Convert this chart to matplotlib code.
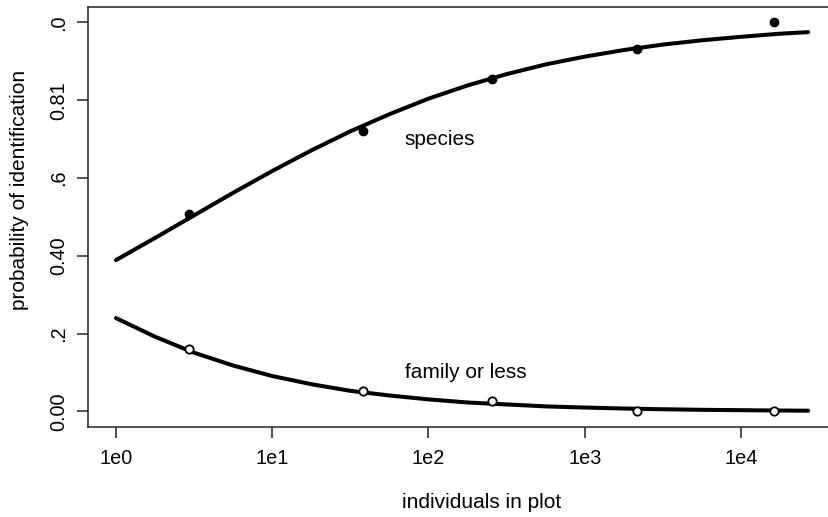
import numpy as np
import matplotlib.pyplot as plt

plt.rcParams['font.family'] = ['Liberation Sans', 'DejaVu Sans']

# observed proportions (points)
x_obs = [2.93, 38.2, 255, 2160, 16300]
species_obs = [0.507, 0.721, 0.855, 0.931, 1.0]
family_obs = [0.160, 0.052, 0.027, 0.0, 0.0]

# fitted curves
x_fit = [1, 1.78, 3.16, 5.62, 10, 17.8, 31.6, 56.2, 100, 178, 316, 562,
         1000, 1780, 3160, 5620, 10000, 17800, 26900]
species_fit = [0.389, 0.446, 0.504, 0.562, 0.618, 0.671, 0.720, 0.764, 0.804, 0.838,
               0.867, 0.892, 0.912, 0.929, 0.943, 0.954, 0.963, 0.971, 0.975]
family_fit = [0.240, 0.192, 0.151, 0.118, 0.091, 0.070, 0.053, 0.041, 0.031, 0.023,
              0.018, 0.013, 0.010, 0.0075, 0.0056, 0.0042, 0.0032, 0.0024, 0.0019]

x_ticks = [1, 10, 100, 1000, 10000]
x_ticklabels = ['1e0', '1e1', '1e2', '1e3', '1e4']
y_ticks = [0.0, 0.2, 0.4, 0.6, 0.8, 1.0]
y_ticklabels = ['0.00', '.2', '0.40', '.6', '0.81', '.0']

fig = plt.figure(figsize=(8.29, 5.17), dpi=100)
ax = fig.add_axes([88 / 829, 90 / 517, 748 / 829, 420 / 517])

ax.plot(x_fit, species_fit, color='black', lw=2.9, solid_capstyle='round')
ax.plot(x_fit, family_fit, color='black', lw=2.9, solid_capstyle='round')
ax.plot(x_obs, species_obs, 'o', color='black', ms=6)
ax.plot(x_obs, family_obs, 'o', mfc='white', mec='black', mew=1.3, ms=6)

ax.text(70.6, 0.698, 'species', fontsize=15, va='center', ha='left')
ax.text(70.6, 0.099, 'family or less', fontsize=15, va='center', ha='left')

ax.set_xscale('log')
ax.set_xlim(10 ** -0.179, 10 ** 4.608)
ax.set_ylim(-0.040, 1.0396)
ax.set_xticks(x_ticks)
ax.set_xticklabels(x_ticklabels)
ax.xaxis.set_minor_locator(plt.NullLocator())
ax.set_yticks(y_ticks)
ax.set_yticklabels(y_ticklabels, rotation=90, va='center')

ax.tick_params(axis='both', direction='out', length=8, width=1.1, labelsize=14.3, color='#222222')
ax.tick_params(axis='x', pad=8)
ax.tick_params(axis='y', pad=6)
for s in ax.spines.values():
    s.set_linewidth(1.1)
    s.set_color('#222222')
ax.spines['right'].set_visible(False)

ax.set_xlabel('individuals in plot', fontsize=15)
ax.xaxis.set_label_coords((482 - 88) / 748, (427 - 503) / 420)
ax.xaxis.label.set_va('center')
ax.set_ylabel('probability of identification', fontsize=15)
ax.yaxis.set_label_coords((20 - 88) / 748, (427 - 190) / 420)
ax.yaxis.label.set_va('center')

fig.savefig('out.png', dpi=100)
